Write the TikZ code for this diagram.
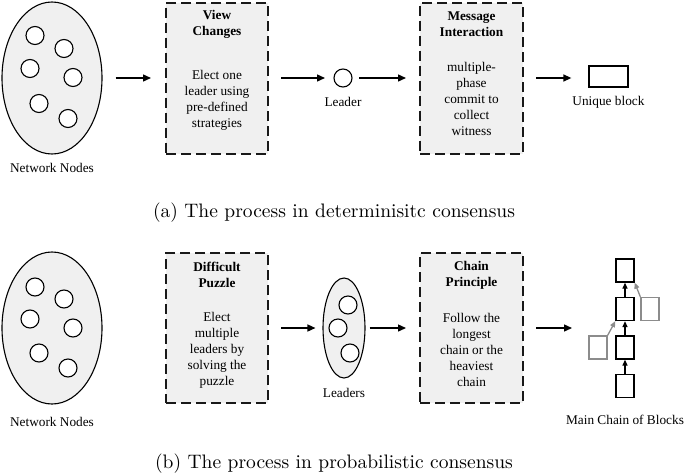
\documentclass[tikz,border=0pt]{standalone}
\usepackage{fontspec}
\setmainfont{Liberation Serif}
\newfontfamily\capfont{lmroman10-regular}[Extension=.otf]
\usetikzlibrary{arrows.meta,shapes.geometric}
\definecolor{boxfill}{HTML}{F0F0F0}
\definecolor{sidegray}{HTML}{8C8C8C}
\begin{document}
\begin{tikzpicture}[x=1pt,y=-1pt,
  lbl/.style={font=\fontsize{13.3}{16}\selectfont, inner sep=0pt},
  title/.style={font=\fontsize{13.3}{16}\selectfont\bfseries, inner sep=0pt, align=center},
  body/.style={font=\fontsize{13.3}{16}\selectfont, inner sep=0pt, align=center},
  proc/.style={draw=black!90, line width=2pt, dash pattern=on 10pt off 5pt, fill=boxfill, minimum width=102pt, minimum height=151pt, inner sep=0pt},
  cloud/.style={ellipse, draw, line width=1.1pt, fill=boxfill, inner sep=0pt},
  dot/.style={circle, draw, fill=white, line width=1.1pt, minimum size=18pt, inner sep=0pt},
  flow/.style={-{Triangle[length=8pt,width=7pt]}, line width=1.4pt},
  blk/.style={draw, line width=1.3pt, minimum width=18pt, minimum height=23pt, inner sep=0pt},
  gblk/.style={blk, draw=sidegray},
  up/.style={-{Triangle[length=6pt,width=5pt]}, line width=1.3pt},
  gup/.style={up, draw=sidegray, fill=sidegray},
  capt/.style={font=\capfont\fontsize{19.5}{23}\selectfont, inner sep=0pt, anchor=base}
]
\useasboundingbox (0,0) rectangle (685,474);

% ---------------- (a) ----------------
\node[cloud, minimum width=100pt, minimum height=152pt] (net1) at (52,78) {};
\foreach \dx/\dy [count=\i] in {-17/-42, 12/-29, -22/-9, 21/0, -13/26, 16/41}
  \node[dot] (n1\i) at (52+\dx, 77.5+\dy) {};
\node[lbl] (net1l) at (52,168) {Network Nodes};

\node[proc] (box1) at (217,78) {};
\node[title] (box1t) at (217,24) {View\\Changes};
\node[body] (box1b) at (217,100) {Elect one\\leader using\\pre-defined\\strategies};

\node[dot] (leader) at (343,78) {};
\node[lbl] (leaderl) at (343,102) {Leader};

\node[proc, minimum width=103pt] (box2) at (471.5,78) {};
\node[title] (box2t) at (471.5,24) {Message\\Interaction};
\node[body] (box2b) at (471.5,99) {multiple-\\phase\\commit to\\collect\\witness};

\node[draw, line width=1.3pt, minimum width=39pt, minimum height=21pt, inner sep=0pt] (ublk) at (608.5,76.5) {};
\node[lbl] (ublkl) at (608.5,102) {Unique block};

\draw[flow, shorten <=13pt, shorten >=14pt] (net1.east) -- (box1.west);
\draw[flow, shorten <=12pt, shorten >=18pt] (box1.east |- leader) -- (leader.center);
\draw[flow, shorten <=16pt, shorten >=13pt] (leader.center) -- (box2.west |- leader);
\draw[flow, shorten <=12pt, shorten >=17pt] (box2.east |- leader) -- (ublk.west |- leader);

\node[capt] (capa) at (334,217) {(a) The process in determinisitc consensus};

% ---------------- (b) ----------------
\node[cloud, minimum width=100pt, minimum height=152pt] (net2) at (52,328) {};
\foreach \dx/\dy [count=\i] in {-17/-41, 12/-29, -22/-9, 21/0, -13/25, 16/40}
  \node[dot] (n2\i) at (52+\dx, 328+\dy) {};
\node[lbl] (net2l) at (52,422) {Network Nodes};

\node[proc, minimum height=150pt] (box3) at (217,328) {};
\node[title] (box3t) at (217,275) {Difficult\\Puzzle};
\node[body] (box3b) at (217,350) {Elect\\multiple\\leaders by\\solving the\\puzzle};

\node[cloud, minimum width=42pt, minimum height=100pt] (leaders) at (344,328) {};
\node[dot] (l1) at (348,305) {};
\node[dot] (l2) at (338,328) {};
\node[dot] (l3) at (350,353) {};
\node[lbl] (leadersl) at (344,393) {Leaders};

\node[proc, minimum width=103pt, minimum height=150pt] (box4) at (471.5,328) {};
\node[title] (box4t) at (471.5,275) {Chain\\Principle};
\node[body] (box4b) at (471.5,350) {Follow the\\longest\\chain or the\\heaviest\\chain};

% chain of blocks
\node[blk] (b1) at (625,270.5) {};
\node[blk] (b2) at (625,309) {};
\node[blk] (b3) at (625,347.5) {};
\node[blk] (b4) at (625,386) {};
\node[gblk] (g1) at (650,309) {};
\node[gblk] (g2) at (598,347.5) {};
\coordinate (chainin) at (572,328);
\node[lbl] (chainl) at (625,420) {Main Chain of Blocks};

\draw[up] (b4.north) -- (b3.south);
\draw[up] (b3.north) -- (b2.south);
\draw[up] (b2.north) -- (b1.south);
\draw[gup] (g1.north west) -- (b1.south east);
\draw[gup] (g2.north east) -- (b2.south west);

\draw[flow, shorten <=12pt, shorten >=7pt] (box3.east) -- (leaders.west);
\draw[flow, shorten <=4pt, shorten >=13pt] (leaders.east) -- (box4.west);
\draw[flow, shorten <=12pt] (box4.east) -- (chainin);

\node[capt] (capb) at (334,468) {(b) The process in probabilistic consensus};
\end{tikzpicture}
\end{document}
